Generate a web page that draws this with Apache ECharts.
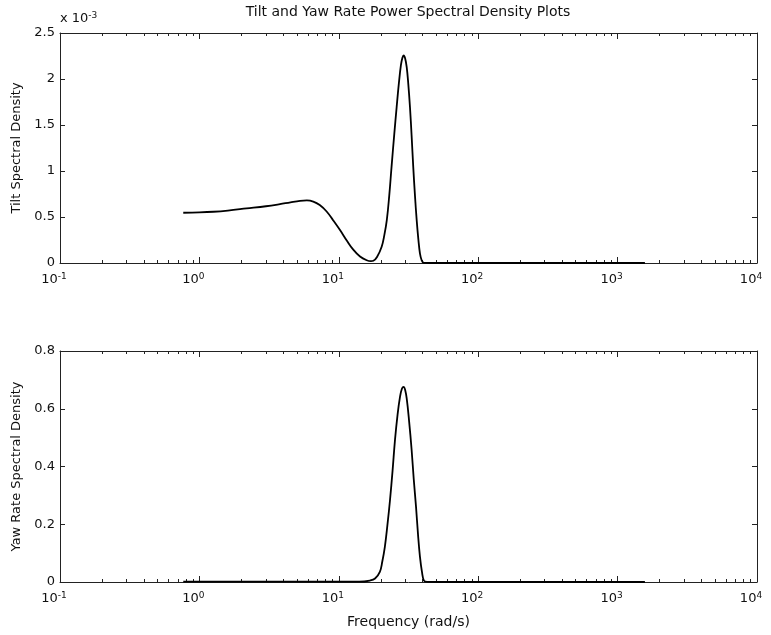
<!DOCTYPE html>
<html>
<head>
<meta charset="utf-8">
<title>Tilt and Yaw Rate Power Spectral Density Plots</title>
<script src="https://cdn.jsdelivr.net/npm/echarts@6/dist/echarts.min.js"></script>
<style>
  html, body { margin: 0; padding: 0; background: #fff; }
  #chart { width: 771px; height: 635px; }
</style>
</head>
<body>
<div id="chart"></div>
<script>
// Tilt PSD samples (frequency in rad/s, density in absolute units)
const tiltFreq = [0.766, 1.0, 1.26, 1.6, 2.18, 3.0, 3.78, 4.5, 5.27, 5.9, 6.56, 7.3, 8.18, 9.1, 10.2,
  11.4, 12.7, 14.2, 15.85, 17.0, 17.7, 18.8, 20.3, 21.2, 22.1, 23.0, 23.9, 25.0, 26.0, 27.0, 27.9,
  28.6, 29.2, 29.9, 30.7, 31.5, 32.4, 33.3, 34.2, 35.2, 36.2, 37.2, 38.2, 39.3, 40.4, 42, 45, 60,
  100, 300, 1000, 1570];
const tiltPsd = [0.000546, 0.000550, 0.000557, 0.000570, 0.000593, 0.000617, 0.000640, 0.000660,
  0.000676, 0.000680, 0.000668, 0.000630, 0.000560, 0.000465, 0.000358, 0.000245, 0.000145,
  0.000070, 0.000030, 0.000020, 0.000024, 0.000065, 0.000177, 0.000300, 0.000466, 0.000730,
  0.001045, 0.001400, 0.001695, 0.001960, 0.002150, 0.002230, 0.002256, 0.002225, 0.002130,
  0.001950, 0.001695, 0.001380, 0.001045, 0.000730, 0.000466, 0.000260, 0.000105, 0.000030,
  0.000004, 0.0000005, 0, 0, 0, 0, 0, 0];

// Yaw rate PSD samples
const yawFreq = [0.766, 2, 5, 10, 14, 16.7, 18.2, 19.7, 20.5, 21.4, 22.3, 23.3, 24.3, 25.3, 26.4,
  27.5, 28.4, 29.2, 29.9, 30.7, 31.9, 33.3, 34.5, 35.8, 37.0, 38.2, 39.5, 40.8, 43, 60, 100, 300,
  1000, 1570];
const yawPsd = [0.001, 0.001, 0.001, 0.001, 0.001, 0.005, 0.012, 0.035, 0.070, 0.122, 0.195, 0.284,
  0.385, 0.492, 0.580, 0.642, 0.670, 0.676, 0.666, 0.636, 0.560, 0.457, 0.355, 0.261, 0.165,
  0.088, 0.035, 0.005, 0.0005, 0, 0, 0, 0, 0];

// Axis ranges and tick labels
const freqRange = [0.1, 10000];
const tiltTicks = ['0', '0.5', '1', '1.5', '2', '2.5'];
const yawTicks = ['0', '0.2', '0.4', '0.6', '0.8'];

const FONT = '"DejaVu Sans", "Liberation Sans", Arial, sans-serif';
const INK = '#111';
const AXIS = '#222';

// minor log ticks (2..9 per decade), expressed as log10 positions
const minorLog = [];
for (let d = -1; d < 4; d++) {
  for (let m = 2; m <= 9; m++) minorLog.push(Math.log10(m) + d);
}

const grids = [
  { left: 60, right: 14, top: 33, height: 230 },
  { left: 60, right: 14, top: 351, height: 231 }
];

const richPow = {
  b: { fontSize: 13, fontFamily: FONT, color: INK, lineHeight: 14, verticalAlign: 'bottom', padding: [7, 0, 0, 0] },
  e: { fontSize: 9, fontFamily: FONT, color: INK, lineHeight: 9, verticalAlign: 'top' }
};

function powLabel(v) {
  const e = Math.round(Math.log10(v));
  return '{b|10}{e|' + e + '}';
}

const xAxes = [];
const yAxes = [];
grids.forEach((g, gi) => {
  // main log axis with decade labels
  xAxes.push({
    type: 'log', logBase: 10, gridIndex: gi, position: 'bottom',
    min: freqRange[0], max: freqRange[1],
    name: gi === 1 ? 'Frequency (rad/s)' : '',
    nameLocation: 'middle', nameGap: 33,
    nameTextStyle: { fontSize: 14, fontFamily: FONT, color: INK, verticalAlign: 'top' },
    axisLine: { show: true, onZero: false, lineStyle: { color: AXIS, width: 1 } },
    axisTick: { show: true, inside: true, length: 6, lineStyle: { color: AXIS } },
    axisLabel: { show: true, margin: 9, formatter: powLabel, rich: richPow, padding: [0, 12, 0, 0] },
    splitLine: { show: false }, minorTick: { show: false }
  });
  // top frame line with decade ticks
  xAxes.push({
    type: 'log', logBase: 10, gridIndex: gi, position: 'top',
    min: freqRange[0], max: freqRange[1],
    axisLine: { show: true, onZero: false, lineStyle: { color: AXIS, width: 1 } },
    axisTick: { show: true, inside: true, length: 6, lineStyle: { color: AXIS } },
    axisLabel: { show: false }, splitLine: { show: false }
  });
  // minor ticks, bottom and top
  ['bottom', 'top'].forEach(pos => {
    xAxes.push({
      type: 'value', gridIndex: gi, position: pos, min: -1, max: 4,
      axisLine: { show: false, onZero: false },
      axisTick: { show: true, inside: true, length: 3, customValues: minorLog, lineStyle: { color: AXIS } },
      axisLabel: { show: false }, splitLine: { show: false }
    });
  });

  const isTilt = gi === 0;
  yAxes.push({
    type: 'value', gridIndex: gi, position: 'left',
    min: 0, max: isTilt ? 0.0025 : 0.8, interval: isTilt ? 0.0005 : 0.2,
    name: isTilt ? 'Tilt Spectral Density' : 'Yaw Rate Spectral Density',
    nameLocation: 'middle', nameGap: 30,
    nameTextStyle: { fontSize: 13, fontFamily: FONT, color: INK },
    axisLine: { show: true, onZero: false, lineStyle: { color: AXIS, width: 1 } },
    axisTick: { show: true, inside: true, length: 5, lineStyle: { color: AXIS } },
    axisLabel: {
      show: true, margin: 5, fontSize: 13, fontFamily: FONT, color: INK,
      formatter: (v, i) => (isTilt ? tiltTicks : yawTicks)[i]
    },
    splitLine: { show: false }
  });
  yAxes.push({
    type: 'value', gridIndex: gi, position: 'right',
    min: 0, max: isTilt ? 0.0025 : 0.8, interval: isTilt ? 0.0005 : 0.2,
    axisLine: { show: true, onZero: false, lineStyle: { color: AXIS, width: 1 } },
    axisTick: { show: true, inside: true, length: 5, lineStyle: { color: AXIS } },
    axisLabel: { show: false }, splitLine: { show: false }
  });
});

const tiltData = tiltFreq.map((f, i) => [f, tiltPsd[i]]);
const yawData = yawFreq.map((f, i) => [f, yawPsd[i]]);

const chart = echarts.init(document.getElementById('chart'), null, { renderer: 'canvas' });
chart.setOption({
  animation: false,
  backgroundColor: '#fff',
  grid: grids,
  xAxis: xAxes,
  yAxis: yAxes,
  graphic: [
    {
      type: 'text', x: 408, y: 5,
      style: {
        text: 'Tilt and Yaw Rate Power Spectral Density Plots',
        fontSize: 14, fontFamily: FONT, fill: INK, align: 'center', verticalAlign: 'top'
      }
    },
    {
      type: 'text', x: 60, y: 11,
      style: {
        text: '{b|x 10}{e|-3}',
        rich: {
          b: { fontSize: 13, fontFamily: FONT, fill: INK, lineHeight: 14, verticalAlign: 'bottom', padding: [3, 0, 0, 0] },
          e: { fontSize: 9, fontFamily: FONT, fill: INK, lineHeight: 9, verticalAlign: 'top' }
        }
      }
    }
  ],
  series: [
    {
      type: 'line', xAxisIndex: 0, yAxisIndex: 0, data: tiltData,
      showSymbol: false, smooth: 0.4,
      lineStyle: { color: '#000', width: 1.8 }
    },
    {
      type: 'line', xAxisIndex: 4, yAxisIndex: 2, data: yawData,
      showSymbol: false, smooth: 0.4,
      lineStyle: { color: '#000', width: 1.8 }
    }
  ]
});
</script>
</body>
</html>
